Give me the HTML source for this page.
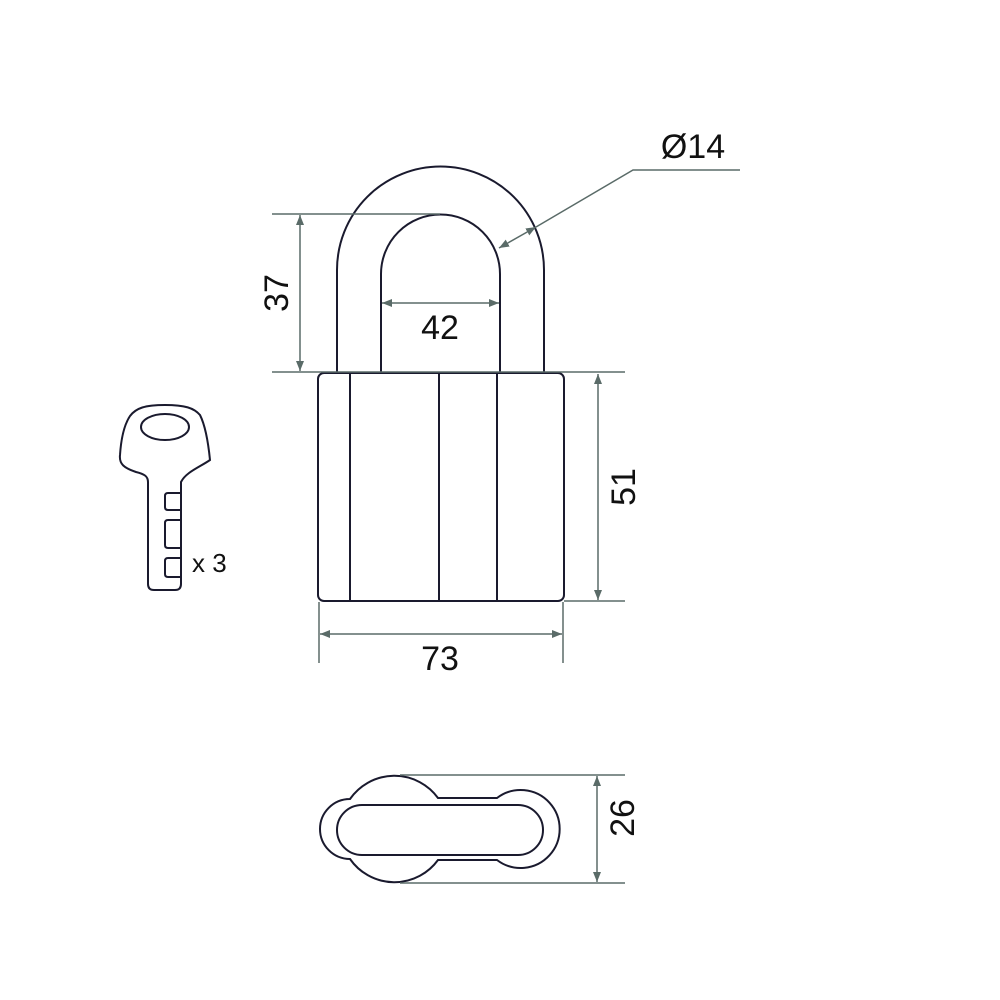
<!DOCTYPE html>
<html><head><meta charset="utf-8"><style>body{margin:0;background:#fff}svg{display:block}</style></head><body>
<svg width="1000" height="1000" viewBox="0 0 1000 1000" xmlns="http://www.w3.org/2000/svg" font-family="Liberation Sans, sans-serif">
<defs>
<marker id="a" viewBox="0 0 10 10" refX="10" refY="5" markerWidth="10" markerHeight="10" markerUnits="userSpaceOnUse" orient="auto-start-reverse"><path d="M0,1 L10,5 L0,9 Z" fill="#5a6b68"/></marker>
</defs>
<g fill="none" stroke="#1a1a2e" stroke-width="2">
<path d="M337,372 V270 A103.5,103.5 0 0 1 544,270 V372"/>
<path d="M381,372 V274 A59.5,59.5 0 0 1 500,274 V372"/>
<rect x="318" y="373" width="246" height="228" rx="6"/>
<line x1="350" y1="373" x2="350" y2="601"/>
<line x1="439" y1="373" x2="439" y2="601"/>
<line x1="497" y1="373" x2="497" y2="601"/>
<path d="M350,799 A54,54 0 0 1 438,798 H497 A39,39 0 1 1 497,860 H438 A54,54 0 0 1 350,859 A30,30 0 0 1 350,799 Z"/>
<path d="M362,805 H518 A25,25 0 0 1 518,855 H362 A25,25 0 0 1 362,805 Z"/>
<path d="M148,482 C148,476 144,474 136,472 C124,468 119,464 120,455 C121,440 124,425 130,416 C136,408 145,405 165,405 C185,405 194,408 200,415 C205,425 208,440 210,460 C200,467 186,472 181,482 V584 C181,588 179,590 175,590 H154 C150,590 148,588 148,584 Z"/>
<ellipse cx="165" cy="427" rx="24" ry="13"/>
<path d="M181,493 H168 Q165,493 165,496 V507 Q165,510 168,510 H181"/>
<path d="M181,520 H168 Q165,520 165,523 V545 Q165,548 168,548 H181"/>
<path d="M181,558 H168 Q165,558 165,561 V574 Q165,577 168,577 H181"/>
</g>
<g stroke="#5a6b68" stroke-width="1.5" fill="none">
<line x1="272" y1="214" x2="440" y2="214"/>
<line x1="272" y1="372" x2="625" y2="372"/>
<line x1="300" y1="215" x2="300" y2="371" marker-start="url(#a)" marker-end="url(#a)"/>
<line x1="382" y1="303" x2="499" y2="303" marker-start="url(#a)" marker-end="url(#a)"/>
<line x1="499" y1="248" x2="536" y2="227" marker-start="url(#a)" marker-end="url(#a)"/>
<polyline points="536,227 633,170 740,170"/>
<line x1="564" y1="601" x2="625" y2="601"/>
<line x1="598" y1="374" x2="598" y2="600" marker-start="url(#a)" marker-end="url(#a)"/>
<line x1="319" y1="602" x2="319" y2="663"/>
<line x1="563" y1="602" x2="563" y2="663"/>
<line x1="320" y1="634" x2="562" y2="634" marker-start="url(#a)" marker-end="url(#a)"/>
<line x1="400" y1="775" x2="625" y2="775"/>
<line x1="400" y1="883" x2="625" y2="883"/>
<line x1="597" y1="776" x2="597" y2="882" marker-start="url(#a)" marker-end="url(#a)"/>
</g>
<g fill="#111" font-size="34">
<text x="440" y="339" text-anchor="middle">42</text>
<text x="440" y="670" text-anchor="middle">73</text>
<text x="693" y="158" text-anchor="middle">Ø14</text>
<text transform="translate(288,293) rotate(-90)" text-anchor="middle">37</text>
<text transform="translate(635,487) rotate(-90)" text-anchor="middle">51</text>
<text transform="translate(634,818) rotate(-90)" text-anchor="middle">26</text>
<text x="192" y="572" font-size="26">x 3</text>
</g>
</svg>
</body></html>
